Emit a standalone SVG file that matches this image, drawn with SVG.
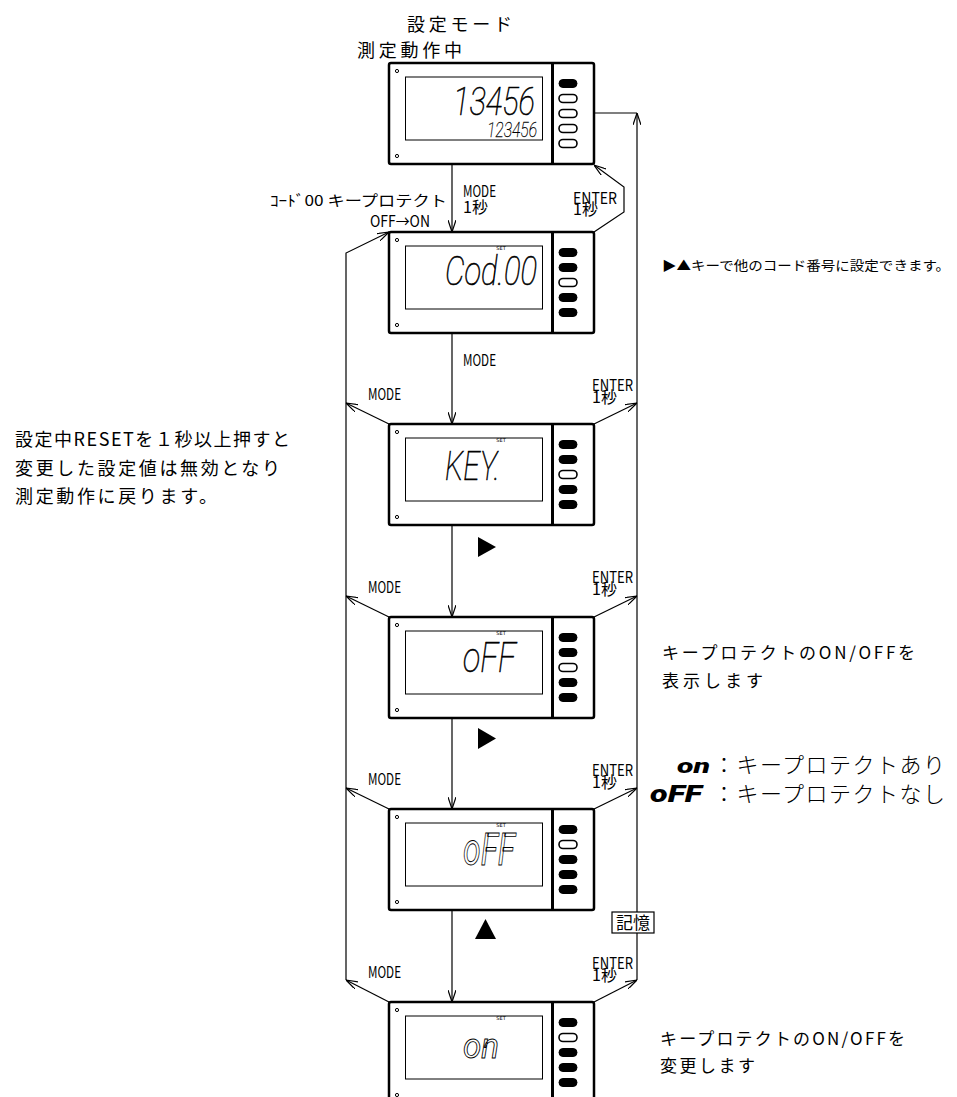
<svg xmlns="http://www.w3.org/2000/svg" width="957" height="1097" viewBox="0 0 957 1097">
<defs>
<style>
.body{fill:#fff;stroke:#000;stroke-width:2.5}
.div{stroke:#000;stroke-width:3}
.disp{fill:#fff;stroke:#000;stroke-width:1}
.dot{fill:none;stroke:#000;stroke-width:1}
.bf{fill:#000;stroke:#000;stroke-width:1}
.bh{fill:#fff;stroke:#000;stroke-width:1.6}
.set{font-family:"DejaVu Sans",sans-serif;font-size:5px;text-anchor:middle;fill:#000}
.seg{font-family:Roboto,"DejaVu Sans",sans-serif;font-style:italic;font-weight:100;fill:#000;stroke:#000;stroke-width:0.6}
.segO{font-family:Roboto,"DejaVu Sans",sans-serif;font-style:italic;font-weight:400;fill:none;stroke:#000;stroke-width:0.9}
.segB{font-family:Roboto,"DejaVu Sans",sans-serif;font-style:italic;font-weight:900;fill:#000}
.jp{font-family:"Noto Sans CJK JP",sans-serif;fill:#000}
.lbl{font-family:"Noto Sans CJK JP",sans-serif;font-size:16px;fill:#000}
.con{fill:none;stroke:#000;stroke-width:1.2}
</style>
<marker id="a" viewBox="0 0 12 8" refX="12" refY="4" markerWidth="12" markerHeight="8" markerUnits="userSpaceOnUse" orient="auto">
<path d="M0,0 L12,4 L0,8" fill="none" stroke="#000" stroke-width="1.2"/>
</marker>
</defs>
<rect width="957" height="1097" fill="#fff"/>

<g id="connectors">
<path class="con" d="M452,164 V232" marker-end="url(#a)"/>
<path class="con" d="M452,333 V424" marker-end="url(#a)"/>
<path class="con" d="M452,525 V617" marker-end="url(#a)"/>
<path class="con" d="M452,718 V809" marker-end="url(#a)"/>
<path class="con" d="M452,910 V1002" marker-end="url(#a)"/>
<path class="con" d="M594,232 L624,212 V187 L594,165" marker-end="url(#a)"/>
<path class="con" d="M346,980 V253 L389,232" marker-end="url(#a)"/>
<path class="con" d="M389,424 L346,403" marker-end="url(#a)"/>
<path class="con" d="M389,617 L346,596" marker-end="url(#a)"/>
<path class="con" d="M389,809 L346,788" marker-end="url(#a)"/>
<path class="con" d="M389,1002 L346,980" marker-end="url(#a)"/>
<path class="con" d="M594,113 H637"/>
<path class="con" d="M637,980 V113" marker-end="url(#a)"/>
<path class="con" d="M594,424 L637,403" marker-end="url(#a)"/>
<path class="con" d="M594,617 L637,596" marker-end="url(#a)"/>
<path class="con" d="M594,809 L637,788" marker-end="url(#a)"/>
<path class="con" d="M594,1002 L637,980" marker-end="url(#a)"/>
</g>

<g id="dev1" transform="translate(0,63)">
<rect class="body" x="389" y="0" width="205" height="101" rx="2"/>
<line class="div" x1="552.5" y1="0" x2="552.5" y2="101"/>
<rect class="disp" x="405.5" y="14" width="137" height="63"/>
<circle class="dot" cx="397" cy="8" r="1.6"/>
<circle class="dot" cx="397" cy="93" r="1.6"/>
<rect class="bf" x="559" y="16.5" width="18" height="8" rx="4"/>
<rect class="bh" x="559" y="31.5" width="18" height="8" rx="4"/>
<rect class="bh" x="559" y="46.5" width="18" height="8" rx="4"/>
<rect class="bh" x="559" y="61.5" width="18" height="8" rx="4"/>
<rect class="bh" x="559" y="76.5" width="18" height="8" rx="4"/>
<text class="seg" x="453" y="52" font-size="39" textLength="82" lengthAdjust="spacingAndGlyphs">13456</text>
<text class="seg" x="487" y="74" font-size="20" textLength="50" lengthAdjust="spacingAndGlyphs" style="stroke-width:0.3">123456</text>
</g>

<g id="dev2" transform="translate(0,232)">
<rect class="body" x="389" y="0" width="205" height="101" rx="2"/>
<line class="div" x1="552.5" y1="0" x2="552.5" y2="101"/>
<rect class="disp" x="405.5" y="14" width="137" height="63"/>
<circle class="dot" cx="397" cy="8" r="1.6"/>
<circle class="dot" cx="397" cy="93" r="1.6"/>
<rect class="bf" x="559" y="16.5" width="18" height="8" rx="4"/>
<rect class="bf" x="559" y="31.5" width="18" height="8" rx="4"/>
<rect class="bh" x="559" y="46.5" width="18" height="8" rx="4"/>
<rect class="bf" x="559" y="61.5" width="18" height="8" rx="4"/>
<rect class="bf" x="559" y="76.5" width="18" height="8" rx="4"/>
<text class="set" x="501" y="18">SET</text>
<text class="seg" x="445" y="53" font-size="41" textLength="92" lengthAdjust="spacingAndGlyphs">Cod.00</text>
</g>

<g id="dev3" transform="translate(0,424)">
<rect class="body" x="389" y="0" width="205" height="101" rx="2"/>
<line class="div" x1="552.5" y1="0" x2="552.5" y2="101"/>
<rect class="disp" x="405.5" y="14" width="137" height="63"/>
<circle class="dot" cx="397" cy="8" r="1.6"/>
<circle class="dot" cx="397" cy="93" r="1.6"/>
<rect class="bf" x="559" y="16.5" width="18" height="8" rx="4"/>
<rect class="bf" x="559" y="31.5" width="18" height="8" rx="4"/>
<rect class="bh" x="559" y="46.5" width="18" height="8" rx="4"/>
<rect class="bf" x="559" y="61.5" width="18" height="8" rx="4"/>
<rect class="bf" x="559" y="76.5" width="18" height="8" rx="4"/>
<text class="set" x="501" y="18">SET</text>
<text class="seg" x="445" y="56" font-size="41" textLength="55" lengthAdjust="spacingAndGlyphs">KEY.</text>
</g>

<g id="dev4" transform="translate(0,617)">
<rect class="body" x="389" y="0" width="205" height="101" rx="2"/>
<line class="div" x1="552.5" y1="0" x2="552.5" y2="101"/>
<rect class="disp" x="405.5" y="14" width="137" height="63"/>
<circle class="dot" cx="397" cy="8" r="1.6"/>
<circle class="dot" cx="397" cy="93" r="1.6"/>
<rect class="bf" x="559" y="16.5" width="18" height="8" rx="4"/>
<rect class="bf" x="559" y="31.5" width="18" height="8" rx="4"/>
<rect class="bh" x="559" y="46.5" width="18" height="8" rx="4"/>
<rect class="bf" x="559" y="61.5" width="18" height="8" rx="4"/>
<rect class="bf" x="559" y="76.5" width="18" height="8" rx="4"/>
<text class="set" x="501" y="18">SET</text>
<text class="seg" x="463" y="55" font-size="42" textLength="53" lengthAdjust="spacingAndGlyphs">oFF</text>
</g>

<g id="dev5" transform="translate(0,809)">
<rect class="body" x="389" y="0" width="205" height="101" rx="2"/>
<line class="div" x1="552.5" y1="0" x2="552.5" y2="101"/>
<rect class="disp" x="405.5" y="14" width="137" height="63"/>
<circle class="dot" cx="397" cy="8" r="1.6"/>
<circle class="dot" cx="397" cy="93" r="1.6"/>
<rect class="bf" x="559" y="16.5" width="18" height="8" rx="4"/>
<rect class="bh" x="559" y="31.5" width="18" height="8" rx="4"/>
<rect class="bf" x="559" y="46.5" width="18" height="8" rx="4"/>
<rect class="bf" x="559" y="61.5" width="18" height="8" rx="4"/>
<rect class="bf" x="559" y="76.5" width="18" height="8" rx="4"/>
<text class="set" x="501" y="18">SET</text>
<text class="segO" x="463" y="56" font-size="44" textLength="52" lengthAdjust="spacingAndGlyphs">oFF</text>
</g>

<g id="dev6" transform="translate(0,1002)">
<rect class="body" x="389" y="0" width="205" height="101" rx="2"/>
<line class="div" x1="552.5" y1="0" x2="552.5" y2="101"/>
<rect class="disp" x="405.5" y="14" width="137" height="63"/>
<circle class="dot" cx="397" cy="8" r="1.6"/>
<circle class="dot" cx="397" cy="93" r="1.6"/>
<rect class="bf" x="559" y="16.5" width="18" height="8" rx="4"/>
<rect class="bh" x="559" y="31.5" width="18" height="8" rx="4"/>
<rect class="bf" x="559" y="46.5" width="18" height="8" rx="4"/>
<rect class="bf" x="559" y="61.5" width="18" height="8" rx="4"/>
<rect class="bf" x="559" y="76.5" width="18" height="8" rx="4"/>
<text class="set" x="501" y="18">SET</text>
<text class="segO" x="463" y="56" font-size="35" textLength="36" lengthAdjust="spacingAndGlyphs">on</text>
</g>

<g id="labels">
<text class="jp" x="407" y="31" font-size="18" textLength="105" lengthAdjust="spacing">設定モード</text>
<text class="jp" x="357" y="57" font-size="18" textLength="105" lengthAdjust="spacing">測定動作中</text>
<text class="jp" x="270" y="206" font-size="15" textLength="177" lengthAdjust="spacingAndGlyphs">ｺｰﾄﾞ00 キープロテクト</text>
<text class="lbl" x="370" y="227" textLength="60" lengthAdjust="spacingAndGlyphs">OFF→ON</text>
<text class="lbl" x="463" y="197" textLength="33" lengthAdjust="spacingAndGlyphs">MODE</text>
<text class="lbl" x="463" y="213">1秒</text>
<text class="lbl" x="573" y="204" textLength="44" lengthAdjust="spacingAndGlyphs">ENTER</text>
<text class="lbl" x="573" y="215">1秒</text>
<text class="lbl" x="463" y="366" textLength="33" lengthAdjust="spacingAndGlyphs">MODE</text>

<text class="lbl" x="368" y="400" textLength="33" lengthAdjust="spacingAndGlyphs">MODE</text>
<text class="lbl" x="592" y="391" textLength="41" lengthAdjust="spacingAndGlyphs">ENTER</text>
<text class="lbl" x="592" y="403">1秒</text>
<text class="lbl" x="368" y="593" textLength="33" lengthAdjust="spacingAndGlyphs">MODE</text>
<text class="lbl" x="592" y="583" textLength="41" lengthAdjust="spacingAndGlyphs">ENTER</text>
<text class="lbl" x="592" y="595">1秒</text>
<text class="lbl" x="368" y="785" textLength="33" lengthAdjust="spacingAndGlyphs">MODE</text>
<text class="lbl" x="592" y="776" textLength="41" lengthAdjust="spacingAndGlyphs">ENTER</text>
<text class="lbl" x="592" y="788">1秒</text>
<text class="lbl" x="368" y="978" textLength="33" lengthAdjust="spacingAndGlyphs">MODE</text>
<text class="lbl" x="592" y="969" textLength="41" lengthAdjust="spacingAndGlyphs">ENTER</text>
<text class="lbl" x="592" y="981">1秒</text>

<polygon points="478,537 496,547 478,557" fill="#000"/>
<polygon points="478,728 496,738.5 478,749" fill="#000"/>
<polygon points="475,939 485.5,919 496,939" fill="#000"/>

<rect x="612" y="912" width="42" height="21" fill="#fff" stroke="#000" stroke-width="1.2"/>
<text class="jp" x="633" y="929" font-size="17" text-anchor="middle">記憶</text>

<text class="jp" x="15" y="446" font-size="18" textLength="275" lengthAdjust="spacing">設定中RESETを１秒以上押すと</text>
<text class="jp" x="15" y="475" font-size="18" textLength="265" lengthAdjust="spacing">変更した設定値は無効となり</text>
<text class="jp" x="15" y="503" font-size="18" textLength="202" lengthAdjust="spacing">測定動作に戻ります。</text>

<text class="jp" x="662" y="270" font-size="13" textLength="288" lengthAdjust="spacingAndGlyphs">▶▲キーで他のコード番号に設定できます。</text>

<text class="jp" x="662" y="659" font-size="17" textLength="253" lengthAdjust="spacing">キープロテクトのON/OFFを</text>
<text class="jp" x="662" y="687" font-size="17" textLength="101" lengthAdjust="spacing">表示します</text>

<text class="segB" x="677" y="773" font-size="20" textLength="33" lengthAdjust="spacingAndGlyphs">on</text>
<text class="jp" x="713" y="773" font-size="22" font-weight="300" textLength="232" lengthAdjust="spacing">：キープロテクトあり</text>
<text class="segB" x="650" y="802" font-size="23" textLength="52" lengthAdjust="spacingAndGlyphs">oFF</text>
<text class="jp" x="713" y="802" font-size="22" font-weight="300" textLength="232" lengthAdjust="spacing">：キープロテクトなし</text>

<text class="jp" x="660" y="1045" font-size="17" textLength="245" lengthAdjust="spacing">キープロテクトのON/OFFを</text>
<text class="jp" x="660" y="1072" font-size="17" textLength="95" lengthAdjust="spacing">変更します</text>
</g>
</svg>
